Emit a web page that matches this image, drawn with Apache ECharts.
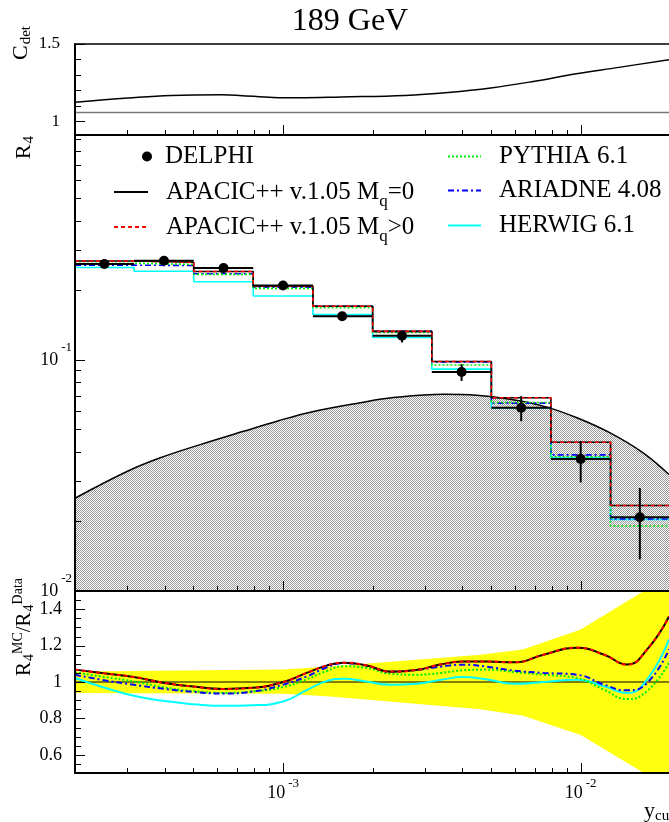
<!DOCTYPE html>
<html><head><meta charset="utf-8">
<script src="https://cdn.jsdelivr.net/npm/echarts@6/dist/echarts.min.js"></script>
<style>html,body{margin:0;padding:0;background:#fff}#c{width:669px;height:822px}</style>
</head><body><div id="c"></div>
<script>
// ---------- axis ranges ----------
const xMin = 0.0002, xMax = 0.0198;
const cdetMin = 0.912, cdetMax = 1.5;
const r4Min = 0.01, r4Max = 0.94;
const ratioMin = 0.5, ratioMax = 1.5;

// ---------- tick values ----------
const xMajorTicks = [0.001, 0.01];
const xMinorTicks = [0.0003,0.0004,0.0005,0.0006,0.0007,0.0008,0.0009,0.002,0.003,0.004,0.005,0.006,0.007,0.008,0.009];
const cdetMajorTicks = [1, 1.5];
const cdetMinorTicks = [1.1, 1.2, 1.3, 1.4];
const r4MajorTicks = [0.01, 0.1];
const r4MinorTicks = [0.02,0.03,0.04,0.05,0.06,0.07,0.08,0.09,0.2,0.3,0.4,0.5,0.6,0.7,0.8,0.9];
const ratioMajorTicks = [0.6, 0.8, 1, 1.2, 1.4];
const ratioMinorTicks = [0.55,0.65,0.7,0.75,0.85,0.9,0.95,1.05,1.1,1.15,1.25,1.3,1.35,1.45];

// ---------- C_det panel ----------
const cdetX = [2.0e-4, 3.02e-4, 4.20e-4, 6.25e-4, 7.13e-4, 9.28e-4, 1.131e-3, 1.57e-3, 2.574e-3, 3.59e-3, 4.99e-3, 6.93e-3, 9.66e-3, 1.343e-2, 1.98e-2];
const cdetY = [1.123, 1.151, 1.168, 1.172, 1.168, 1.155, 1.153, 1.158, 1.168, 1.187, 1.216, 1.258, 1.308, 1.349, 1.399];
const cdetRefLevel = 1.058;

// ---------- R4 panel ----------
const binEdges = [0.0002, 0.000316, 0.000501, 0.000794, 0.00126, 0.002, 0.00316, 0.00501, 0.00794, 0.0126, 0.02];
const binCenters = [0.000251, 0.000398, 0.000631, 0.001, 0.00158, 0.00251, 0.00398, 0.00631, 0.01, 0.0158];
const delphi   = [0.260, 0.2686, 0.2496, 0.210, 0.1545, 0.1271, 0.0887, 0.0621, 0.0373, 0.02085];
const delphiLo = [0.255, 0.264, 0.245, 0.206, 0.151, 0.119, 0.0811, 0.0543, 0.0295, 0.0137];
const delphiHi = [0.265, 0.273, 0.254, 0.214, 0.158, 0.1336, 0.0958, 0.0697, 0.0445, 0.0279];
const apacic0  = [0.268, 0.2644, 0.2413, 0.2085, 0.1706, 0.1328, 0.0984, 0.0686, 0.0440, 0.02344];
const apacicM  = [0.268, 0.2644, 0.2413, 0.2085, 0.1706, 0.1328, 0.0984, 0.0686, 0.0440, 0.02344];
const pythia   = [0.262, 0.259, 0.2345, 0.204, 0.168, 0.1315, 0.0951, 0.0654, 0.0381, 0.0191];
const ariadne  = [0.257, 0.256, 0.236, 0.2065, 0.1706, 0.1328, 0.098, 0.065, 0.0388, 0.0205];
const herwig   = [0.251, 0.242, 0.218, 0.189, 0.157, 0.125, 0.0912, 0.062, 0.0377, 0.0204];
const shadeX = [2.0e-4, 2.99e-4, 3.87e-4, 5.27e-4, 7.37e-4, 9.54e-4, 1.236e-3, 1.82e-3, 2.35e-3, 3.46e-3, 4.48e-3, 5.79e-3, 7.49e-3, 9.71e-3, 1.256e-2, 1.625e-2, 1.98e-2];
const shadeY = [0.0252, 0.0329, 0.0377, 0.0430, 0.0491, 0.0543, 0.0594, 0.0653, 0.0687, 0.0710, 0.0703, 0.0675, 0.0631, 0.0562, 0.0483, 0.0395, 0.0319];

// ---------- ratio panel ----------
const ratioX = [2.0e-4, 2.5e-4, 3.15e-4, 4.0e-4, 5.0e-4, 6.3e-4, 7.9e-4, 1.0e-3, 1.2e-3, 1.4e-3, 1.6e-3, 1.9e-3, 2.3e-3, 2.8e-3, 3.4e-3, 4.0e-3, 4.8e-3, 6.0e-3, 7.5e-3, 9.7e-3, 1.2e-2, 1.43e-2, 1.67e-2, 1.98e-2];
const ratioApacic0 = [1.068, 1.048, 1.028, 0.995, 0.975, 0.962, 0.968, 1.0, 1.05, 1.09, 1.106, 1.092, 1.057, 1.066, 1.097, 1.112, 1.113, 1.108, 1.15, 1.188, 1.15, 1.096, 1.178, 1.36];
const ratioApacicM = [1.068, 1.048, 1.028, 0.995, 0.975, 0.962, 0.968, 1.0, 1.05, 1.09, 1.106, 1.092, 1.057, 1.066, 1.097, 1.112, 1.113, 1.108, 1.15, 1.188, 1.15, 1.096, 1.178, 1.36];
const ratioAriadne = [1.04, 1.01, 0.985, 0.962, 0.945, 0.937, 0.948, 0.985, 1.03, 1.08, 1.104, 1.09, 1.057, 1.066, 1.085, 1.095, 1.085, 1.062, 1.05, 1.04, 0.985, 0.954, 0.994, 1.18];
const ratioPythia  = [1.053, 1.028, 1.003, 0.97, 0.95, 0.94, 0.948, 0.972, 1.015, 1.06, 1.086, 1.078, 1.045, 1.04, 1.05, 1.064, 1.068, 1.055, 1.04, 1.022, 0.957, 0.906, 0.95, 1.105];
const ratioHerwig  = [1.022, 0.97, 0.924, 0.895, 0.878, 0.869, 0.872, 0.893, 0.955, 1.005, 1.018, 1.003, 0.985, 0.99, 1.012, 1.027, 1.015, 0.99, 1.0, 1.013, 0.976, 0.939, 1.013, 1.234];
const bandX  = [2.0e-4, 1.0e-3, 1.44e-3, 4.6e-3, 6.4e-3, 1.0e-2, 1.63e-2, 1.98e-2];
const bandHi = [1.058, 1.068, 1.085, 1.15, 1.178, 1.289, 1.5, 1.6];
const bandLo = [0.94, 0.935, 0.92, 0.85, 0.814, 0.709, 0.5, 0.4];

// ---------- names ----------
const N_DELPHI = 'DELPHI', N_AP0 = 'APACIC++ v.1.05 Mq=0', N_APM = 'APACIC++ v.1.05 Mq>0',
      N_PY = 'PYTHIA 6.1', N_AR = 'ARIADNE 4.08', N_HW = 'HERWIG 6.1';
const legendRich = {};
legendRich[N_DELPHI] = '{n|DELPHI}';
legendRich[N_AP0] = '{n|APACIC++ v.1.05 M}{q|q}{n|=0}';
legendRich[N_APM] = '{n|APACIC++ v.1.05 M}{q|q}{n|>0}';
legendRich[N_PY] = '{n|PYTHIA 6.1}';
legendRich[N_AR] = '{n|ARIADNE 4.08}';
legendRich[N_HW] = '{n|HERWIG 6.1}';

const FONT = '"Liberation Serif", "Times New Roman", serif';

function zip(xs, ys) { return xs.map((x, i) => [x, ys[i]]); }
function histData(vals) { return binEdges.map((e, i) => [e, vals[Math.min(i, vals.length - 1)]]); }
function makePattern(bg, fg, size, pts) {
  const c = document.createElement('canvas'); c.width = size; c.height = size;
  const ctx = c.getContext('2d'); ctx.fillStyle = bg; ctx.fillRect(0, 0, size, size);
  ctx.fillStyle = fg; pts.forEach(p => ctx.fillRect(p[0], p[1], 1, 1)); return c;
}
const greyPat = makePattern('#ffffff', '#9a9a9a', 2, [[0,0],[1,1]]);

function tickData(xMaj, xMin_, yMaj, yMin_, yBase) {
  const d = [];
  xMaj.forEach(v => d.push([v, yBase, 10, 0]));
  xMin_.forEach(v => d.push([v, yBase, 5, 0]));
  yMaj.forEach(v => d.push([xMin, v, 10, 1]));
  yMin_.forEach(v => d.push([xMin, v, 6, 1]));
  return d;
}
function tickSeries(xi, yi, data) {
  return {
    type: 'custom', xAxisIndex: xi, yAxisIndex: yi, z: 20, silent: true, data: data,
    renderItem: function (params, api) {
      const p = api.coord([api.value(0), api.value(1)]);
      const len = api.value(2), dir = api.value(3);
      if (dir === 1) {
        const y = Math.round(p[1]) + 0.5;
        return {type: 'line', shape: {x1: p[0], y1: y, x2: p[0] + len, y2: y}, style: {stroke: '#000', lineWidth: 1}};
      }
      const x = Math.round(p[0]) + 0.5;
      return {type: 'line', shape: {x1: x, y1: p[1], x2: x, y2: p[1] - len}, style: {stroke: '#000', lineWidth: 1}};
    }
  };
}
function isPow10(v) { const l = Math.log10(v); return Math.abs(l - Math.round(l)) < 1e-6; }
function powLabel(v) { return isPow10(v) ? '{b|10}{s|' + Math.round(Math.log10(v)) + '}' : ''; }

const axisLineStyle = w => ({show: true, onZero: false, lineStyle: {color: '#000', width: w}});
const noSplit = {show: false};

function xAxisDef(gi, pos, lineW, labels) {
  return {
    type: 'log', logBase: 10, gridIndex: gi, position: pos, min: xMin, max: xMax, z: 10,
    axisLine: axisLineStyle(lineW), axisTick: {show: false}, splitLine: noSplit, minorTick: {show: false},
    axisLabel: labels ? {
      show: true, margin: 4, showMinLabel: false, showMaxLabel: false, formatter: powLabel,
      rich: {b: {fontFamily: FONT, fontSize: 18, color: '#000'}, s: {fontFamily: FONT, fontSize: 13, color: '#000', padding: [0, 0, 20, 3]}}
    } : {show: false}
  };
}

const hist = (name, vals, color, type, width, z) => ({
  name: name, type: 'line', xAxisIndex: 2, yAxisIndex: 1, step: 'end', symbol: 'none', showSymbol: false,
  data: histData(vals), z: z, lineStyle: {color: color, width: width, type: type}, itemStyle: {color: color}
});
const ratio = (name, vals, color, type, width, z) => ({
  name: name, type: 'line', xAxisIndex: 3, yAxisIndex: 2, smooth: 0.5, symbol: 'none', showSymbol: false,
  data: zip(ratioX, vals), z: z, lineStyle: {color: color, width: width, type: type}, itemStyle: {color: color}
});

const legendText = {
  fontFamily: FONT, fontSize: 25, color: '#000',
  rich: {
    n: {fontFamily: FONT, fontSize: 25, color: '#000', lineHeight: 37},
    q: {fontFamily: FONT, fontSize: 17, color: '#000', lineHeight: 17, padding: [20, 0, 0, 0]}
  }
};
function legendItem(name, left, top, w, h, padLeft, isLine) {
  const o = {
    data: [isLine ? name : {name: name, icon: 'circle'}], left: left, top: top, orient: 'vertical', padding: 0, selectedMode: false,
    itemWidth: w, itemHeight: h, formatter: n => legendRich[n],
    textStyle: Object.assign({padding: [0, 0, 0, padLeft]}, legendText)
  };
  if (isLine) o.itemStyle = {opacity: 0};
  return o;
}

const bandSeries = {
  name: 'band', type: 'custom', xAxisIndex: 3, yAxisIndex: 2, z: 1, silent: true, clip: true,
  data: bandX.map((x, i) => [x, bandLo[i], bandHi[i]]),
  renderItem: function (params, api) {
    if (params.dataIndex !== 0) return null;
    const pts = [];
    for (let i = 0; i < bandX.length; i++) pts.push(api.coord([bandX[i], bandHi[i]]));
    for (let i = bandX.length - 1; i >= 0; i--) pts.push(api.coord([bandX[i], bandLo[i]]));
    return {type: 'polygon', shape: {points: pts}, style: {fill: '#ffff10', stroke: null, opacity: 1}};
  }
};

const option = {
  animation: false,
  backgroundColor: '#ffffff',
  title: {text: '189 GeV', left: 350, textAlign: 'center', top: 6, padding: 0,
    textStyle: {fontFamily: FONT, fontSize: 32, fontWeight: 'normal', color: '#000'}},
  legend: [
    legendItem(N_DELPHI, 142, 144, 10, 10, 8, false),
    legendItem(N_AP0, 113, 173.5, 34, 14, 13, true),
    legendItem(N_APM, 113, 208.5, 34, 14, 13, true),
    legendItem(N_PY, 447, 144, 33, 14, 13, true),
    legendItem(N_AR, 447, 178, 33, 14, 13, true),
    legendItem(N_HW, 447, 213, 33, 14, 13, true)
  ],
  grid: [
    {left: 75, top: 44, right: 0, height: 91},
    {left: 75, top: 135, right: 0, height: 456},
    {left: 75, top: 591, right: 0, height: 182}
  ],
  xAxis: [
    xAxisDef(0, 'bottom', 2, false),
    xAxisDef(0, 'top', 1.5, false),
    xAxisDef(1, 'bottom', 2, false),
    xAxisDef(2, 'bottom', 2, true)
  ],
  yAxis: [
    {type: 'value', gridIndex: 0, min: cdetMin, max: cdetMax, z: 10, axisLine: axisLineStyle(2), axisTick: {show: false}, splitLine: noSplit,
     axisLabel: {margin: 15, showMinLabel: false, fontFamily: FONT, fontSize: 17, color: '#000',
       formatter: v => Math.abs(v - 1) < 1e-6 ? '1' : (Math.abs(v - 1.5) < 1e-6 ? '1.5' : '')}},
    {type: 'log', logBase: 10, gridIndex: 1, min: r4Min, max: r4Max, z: 10, axisLine: axisLineStyle(2), axisTick: {show: false}, splitLine: noSplit, minorTick: {show: false},
     axisLabel: {margin: 3, showMaxLabel: false, formatter: powLabel,
       rich: {b: {fontFamily: FONT, fontSize: 18, color: '#000'}, s: {fontFamily: FONT, fontSize: 13, color: '#000', padding: [0, 0, 24, 3]}}}},
    {type: 'value', gridIndex: 2, min: ratioMin, max: ratioMax, z: 10, axisLine: axisLineStyle(2), axisTick: {show: false}, splitLine: noSplit,
     axisLabel: {margin: 13, showMinLabel: false, showMaxLabel: false, fontFamily: FONT, fontSize: 18, color: '#000',
       formatter: v => ratioMajorTicks.some(t => Math.abs(t - v) < 1e-6) ? String(Math.round(v * 10) / 10) : ''}}
  ],
  graphic: [
    {type: 'text', x: 21, y: 26, rotation: Math.PI / 2, silent: true,
     style: {text: '{m|C}{s|det}', align: 'right', verticalAlign: 'middle', fill: '#000',
       rich: {m: {fontFamily: FONT, fontSize: 22, fill: '#000'}, s: {fontFamily: FONT, fontSize: 15, fill: '#000', padding: [10, 0, 0, 1]}}}},
    {type: 'text', x: 24, y: 136, rotation: Math.PI / 2, silent: true,
     style: {text: '{m|R}{s|4}', align: 'right', verticalAlign: 'middle', fill: '#000',
       rich: {m: {fontFamily: FONT, fontSize: 22, fill: '#000'}, s: {fontFamily: FONT, fontSize: 15, fill: '#000', padding: [10, 0, 0, 1]}}}},
    {type: 'text', x: 24, y: 578, rotation: Math.PI / 2, silent: true,
     style: {text: '{m|R}{s|4}{p|MC}{m|/R}{s|4}{p|Data}', align: 'right', verticalAlign: 'middle', fill: '#000',
       rich: {m: {fontFamily: FONT, fontSize: 21, fill: '#000'}, s: {fontFamily: FONT, fontSize: 14, fill: '#000', padding: [10, 0, 0, 1]},
              p: {fontFamily: FONT, fontSize: 14, fill: '#000', padding: [0, 0, 12, 0]}}}},
    {type: 'text', x: 644, y: 811, silent: true,
     style: {text: '{m|y}{s|cut}', align: 'left', verticalAlign: 'middle', fill: '#000',
       rich: {m: {fontFamily: FONT, fontSize: 22, fill: '#000'}, s: {fontFamily: FONT, fontSize: 15, fill: '#000', padding: [10, 0, 0, 0]}}}}
  ],
  series: [
    // C_det panel
    {name: 'Cdet', type: 'line', xAxisIndex: 0, yAxisIndex: 0, smooth: 0.4, symbol: 'none', data: zip(cdetX, cdetY),
     lineStyle: {color: '#000', width: 1.5}, z: 3},
    {name: 'Cdet ref', type: 'line', xAxisIndex: 0, yAxisIndex: 0, symbol: 'none', data: [[xMin, cdetRefLevel], [xMax, cdetRefLevel]],
     lineStyle: {color: '#777', width: 1.5}, z: 2},
    tickSeries(0, 0, tickData(xMajorTicks, xMinorTicks, cdetMajorTicks, cdetMinorTicks, cdetMin)),
    // R4 panel
    {name: 'shade', type: 'line', xAxisIndex: 2, yAxisIndex: 1, smooth: 0.4, symbol: 'none', data: zip(shadeX, shadeY),
     lineStyle: {color: '#000', width: 1.5}, areaStyle: {origin: 'start', opacity: 1, color: {image: greyPat, repeat: 'repeat'}}, z: 1},
    hist(N_HW, herwig, '#00ffff', 'solid', 1.6, 3),
    hist(N_AR, ariadne, '#0000ff', [6, 3, 2, 3], 1.6, 4),
    hist(N_PY, pythia, '#00ee00', [2, 2], 1.6, 5),
    hist(N_AP0, apacic0, '#000000', 'solid', 1.6, 6),
    hist(N_APM, apacicM, '#ff0000', [4, 3], 1.6, 7),
    {name: 'DELPHI err', type: 'custom', xAxisIndex: 2, yAxisIndex: 1, z: 8, silent: true,
     data: binCenters.map((c, i) => [c, delphi[i], delphiLo[i], delphiHi[i], binEdges[i], binEdges[i + 1]]),
     renderItem: function (params, api) {
       const c = api.coord([api.value(0), api.value(1)]);
       const lo = api.coord([api.value(0), api.value(2)]);
       const hi = api.coord([api.value(0), api.value(3)]);
       const l = api.coord([api.value(4), api.value(1)]);
       const r = api.coord([api.value(5), api.value(1)]);
       return {type: 'group', children: [
         {type: 'line', shape: {x1: l[0], y1: c[1], x2: r[0], y2: c[1]}, style: {stroke: '#000', lineWidth: 2}},
         {type: 'line', shape: {x1: c[0], y1: lo[1], x2: c[0], y2: hi[1]}, style: {stroke: '#000', lineWidth: 2}}
       ]};
     }},
    {name: N_DELPHI, type: 'scatter', xAxisIndex: 2, yAxisIndex: 1, symbol: 'circle', symbolSize: 10, z: 9,
     data: zip(binCenters, delphi), itemStyle: {color: '#000', opacity: 1}},
    tickSeries(2, 1, tickData(xMajorTicks, xMinorTicks, r4MajorTicks, r4MinorTicks, r4Min)),
    // ratio panel
    bandSeries,
    {name: 'unity', type: 'line', xAxisIndex: 3, yAxisIndex: 2, symbol: 'none', data: [[xMin, 1], [xMax, 1]],
     lineStyle: {color: '#000', width: 1}, z: 2},
    ratio('r ' + N_HW, ratioHerwig, '#00ffff', 'solid', 2, 3),
    ratio('r ' + N_PY, ratioPythia, '#00ee00', [2, 2], 2, 4),
    ratio('r ' + N_AR, ratioAriadne, '#0000ff', [6, 3, 2, 3], 2, 5),
    ratio('r ' + N_AP0, ratioApacic0, '#000000', 'solid', 2, 6),
    ratio('r ' + N_APM, ratioApacicM, '#ff0000', [4, 3], 2, 7),
    tickSeries(3, 2, tickData(xMajorTicks, xMinorTicks, ratioMajorTicks, ratioMinorTicks, ratioMin))
  ]
};
const chart = echarts.init(document.getElementById('c'), null, {renderer: 'canvas', width: 669, height: 822});
chart.setOption(option);
</script></body></html>
